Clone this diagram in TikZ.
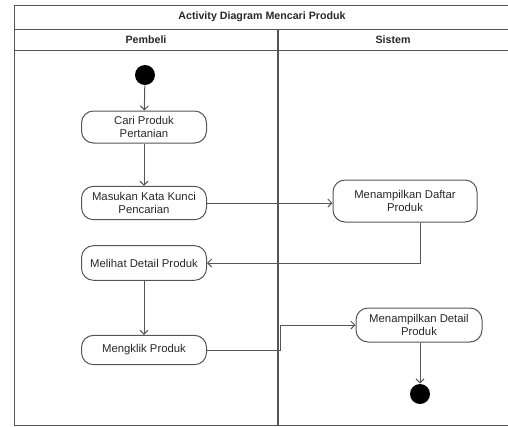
\documentclass[tikz,border=0pt]{standalone}
\usepackage{fontspec}
\setmainfont{Liberation Sans}
\usetikzlibrary{arrows.meta}

\definecolor{lanegray}{RGB}{85,85,85}
\definecolor{txtgray}{RGB}{40,40,40}

\tikzset{every picture/.style={line width=0.75pt}}
\tikzset{
	activity/.style={draw=lanegray, rounded corners=9pt, align=center, inner sep=2pt,
		font=\fontsize{8.5}{10}\selectfont, text=txtgray},
	flow/.style={draw=lanegray, -{Straight Barb[length=3pt,width=6pt]}},
	dot/.style={circle, fill=black, minimum size=15pt, inner sep=0pt},
	lanetext/.style={font=\bfseries\fontsize{8}{10}\selectfont, text=txtgray}
}

\begin{document}
\begin{tikzpicture}[x=0.75pt,y=0.75pt,yscale=-1,xscale=1]
	\useasboundingbox (0,0) rectangle (508,426);
	
	% swimlane frame
	\draw [color=lanegray] (508,5) -- (14,5) -- (14,425) -- (508,425) ;
	\draw [color=lanegray] (14,29) -- (508,29) ;
	\draw [color=lanegray] (14,50) -- (508,50) ;
	\draw [color=lanegray, line width=1.2pt] (278,29) -- (278,425) ;
	
	% Text Node
	\node [lanetext] (title) at (262,17) {Activity Diagram Mencari Produk};
	\node [lanetext] (pembeli) at (146,40) {Pembeli};
	\node [lanetext] (sistem) at (393,40) {Sistem};
	
	% Pembeli lane
	\node [dot] (start) at (145,75) {};
	\node [activity, minimum width=93.75pt, minimum height=24pt] (cari) at (144,127) {Cari Produk\\Pertanian};
	\node [activity, minimum width=93.75pt, minimum height=25pt] (masukan) at (144,203) {Masukan Kata Kunci\\Pencarian};
	\node [activity, minimum width=93.75pt, minimum height=26pt] (melihat) at (144,263) {Melihat Detail Produk};
	\node [activity, minimum width=93.75pt, minimum height=22pt] (klik) at (144,350) {Mengklik Produk};
	
	% Sistem lane
	\node [activity, minimum width=108pt, minimum height=31.5pt] (daftar) at (405,201) {Menampilkan Daftar\\Produk};
	\node [activity, minimum width=94.5pt, minimum height=25.5pt] (detail) at (419,325) {Menampilkan Detail\\Produk};
	\node [dot] (end) at (420,394) {};
	\coordinate (bend) at (280,350);
	
	% flows
	\draw [flow] (start) -- (cari);
	\draw [flow] (cari) -- (masukan);
	\draw [flow] (masukan.east) -- (masukan.east -| daftar.west);
	\draw [flow] (daftar.south -| 420,0) |- (melihat.east);
	\draw [flow] (melihat) -- (klik);
	\draw [flow] (klik.east) -- (bend) |- (detail.west);
	\draw [flow] (detail.south -| end) -- (end);
	
\end{tikzpicture}
\end{document}
